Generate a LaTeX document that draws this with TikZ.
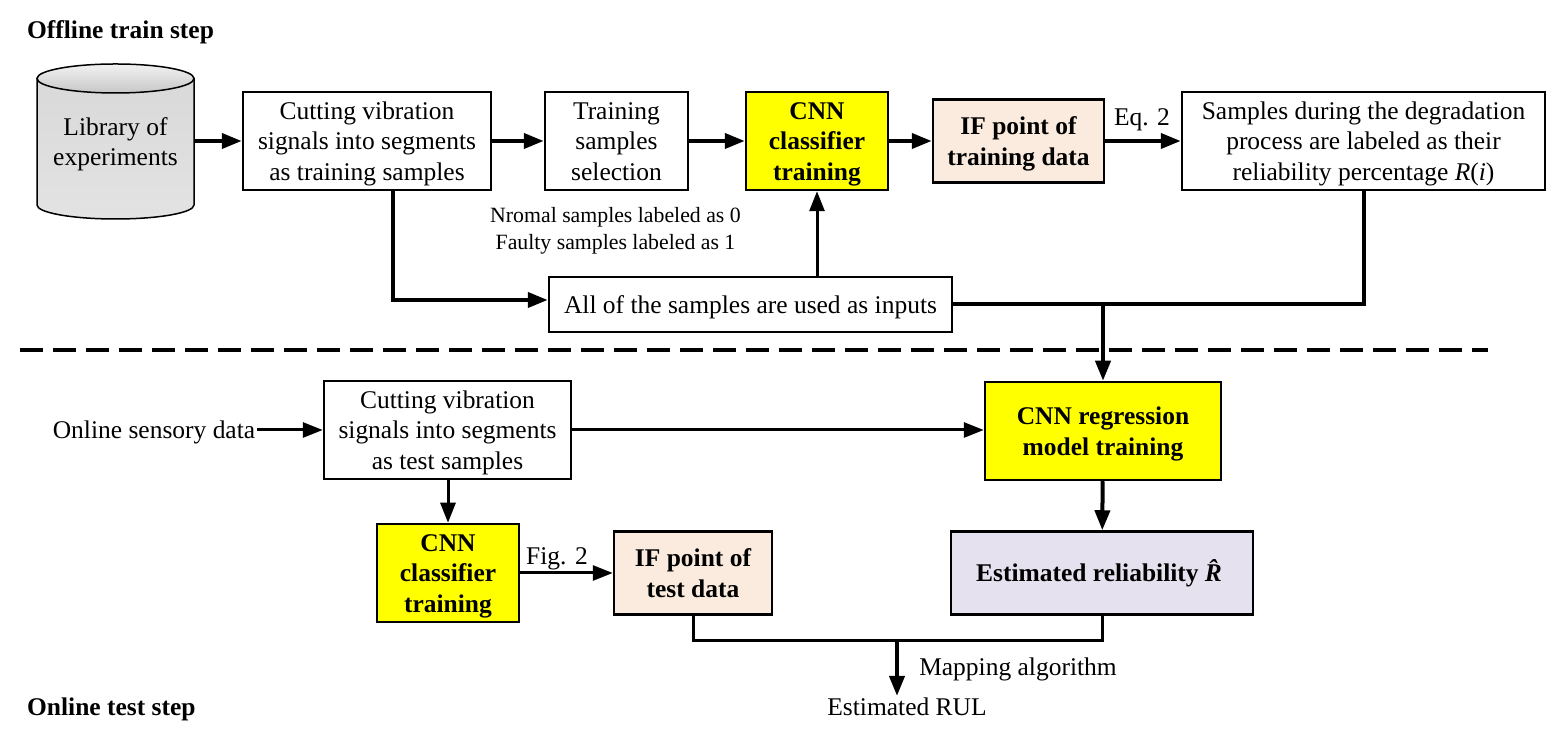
\documentclass[tikz,border=0pt]{standalone}
\usepackage{fontspec}
\setmainfont{Liberation Serif}
\usepackage{tikz}
\usetikzlibrary{positioning,calc,arrows.meta}
\newcommand{\bnode}[6]{\node [blk,#1,minimum width=#4cm,minimum height=#5cm] (#2) at (#3) {\rule{0pt}{14.2pt}#6\rule[-4pt]{0pt}{4pt}}}
\newcommand{\tnode}[3]{\node [txt] (#1) at (#2) {#3}}
\newcommand{\bodyfont}{\fontsize{14.5}{17.3}\selectfont}
\definecolor{ylw}{RGB}{255,255,0}
\definecolor{ifcol}{RGB}{250,235,222}
\definecolor{estcol}{RGB}{229,225,238}

\tikzset{
  blk/.style={draw,line width=0.05cm,inner sep=0pt,align=center,font=\bodyfont},
  hot/.style={fill=ylw,font=\bodyfont\bfseries},
  txt/.style={inner sep=1pt,align=center,font=\bodyfont},
  small/.style={inner sep=1pt,align=center,font=\fontsize{12.4}{15.4}\selectfont},
  head/.style={inner sep=1pt,anchor=west,font=\fontsize{14.5}{17}\selectfont\bfseries},
  thickln/.style={line width=0.08cm},
  thinln/.style={line width=0.06cm},
  tip/.style={-{Triangle[length=0.4cm,width=0.3cm]}}
}

\begin{document}
\begin{tikzpicture}

\useasboundingbox (0,0) rectangle (31.16,14.64);

\node [head] (OFF) at (0.5,14)  {Offline train step};
\node [head] (ON)  at (0.5,0.46) {Online test step};

\draw [line width=0.03cm,top color=black!15,bottom color=black!11]
  (0.74,13.07) -- (0.74,10.54) arc (180:360:1.57 and 0.28) -- (3.88,13.07) -- cycle;
\draw [line width=0.03cm,top color=black!5,bottom color=black!22]
  (2.31,13.07) ellipse (1.57 and 0.29);
\node [minimum width=3.14cm,minimum height=3.1cm,txt] (LIB) at (2.31,11.76) {Library of\\experiments};

\bnode{}{CUT}{7.34,11.82}{4.96}{1.96}{Cutting vibration\\signals into segments\\as training samples};
\bnode{}{SEL}{12.33,11.82}{2.86}{1.96}{Training\\samples\\selection};
\bnode{hot}{CLS}{16.34,11.82}{2.84}{1.96}{CNN\\classifier\\training};
\bnode{fill=ifcol,font=\bodyfont\bfseries}{IFT}{20.37,11.82}{3.42}{1.66}{IF point of\\training data};
\bnode{}{LAB}{27.27,11.82}{7.26}{1.96}{Samples during the degradation\\process are labeled as their\\reliability percentage \textit{R}(\textit{i})};
\bnode{}{ALL}{15.01,8.55}{8.06}{1.1}{All of the samples are used as inputs};

\node [small] (NOTE) at (12.31,10.03) {Nromal samples labeled as 0\\Faulty samples labeled as 1};
\tnode{EQ}{22.84,12.24}{Eq. 2};

\coordinate (DL) at (0.4,7.64);
\coordinate (DR) at (29.76,7.64);
\draw [line width=0.08cm,dash pattern=on 0.46cm off 0.2cm] (DL) -- (DR);

\bnode{hot}{REG}{22.06,6.02}{4.72}{1.96}{CNN regression\\model training};
\bnode{}{TST}{8.95,6.04}{4.94}{1.96}{Cutting vibration\\signals into segments\\as test samples};
\bnode{hot}{CLT}{8.96,3.18}{2.84}{1.96}{CNN\\classifier\\training};
\bnode{fill=ifcol,font=\bodyfont\bfseries}{IFE}{13.86,3.18}{3.16}{1.66}{IF point of\\test data};
\bnode{fill=estcol,font=\bodyfont\bfseries}{EST}{22.04,3.18}{6.04}{1.66}{Estimated reliability \textit{\^R}};

\tnode{SENS}{3.08,6.04}{\rule{0pt}{12.5pt}Online sensory data};
\tnode{FIG}{11.14,3.46}{Fig. 2};
\tnode{MAP}{20.36,1.26}{Mapping algorithm};
\tnode{RUL}{18.14,0.5}{Estimated RUL};

\coordinate (TURN) at (7.86,8.64);
\coordinate (JOIN) at ($(REG.north |- ALL.east)$);
\coordinate (MERGE) at (17.94,1.82);

\draw [thickln,tip] (LIB.east |- CUT.west) -- (CUT.west);
\draw [thickln,tip] (CUT) -- (SEL);
\draw [thickln,tip] (SEL) -- (CLS);
\draw [thickln,tip] (CLS) -- (IFT);
\draw [thickln,tip] (IFT) -- (LAB);
\draw [thickln,tip] (TURN |- CUT.south) |- (TURN -| ALL.west);
\draw [thinln,tip] (ALL.north -| CLS) -- (CLS);
\draw [thickln] (ALL.east) -| (LAB.south);
\draw [thickln,tip] (JOIN) -- (REG);

\draw [thinln,tip] (SENS) -- (TST);
\draw [thinln,tip] (TST.east) -- (TST.east -| REG.west);
\draw [thinln,tip] (TST.south -| CLT) -- (CLT);
\draw [thinln,tip] (CLT) -- (IFE);
\draw [thickln,tip] (REG) -- (EST);
\draw [thinln] (IFE.south) |- (MERGE) -| (EST.south);
\draw [thickln,tip] (MERGE) -- (MERGE |- RUL.north);

\end{tikzpicture}
\end{document}
